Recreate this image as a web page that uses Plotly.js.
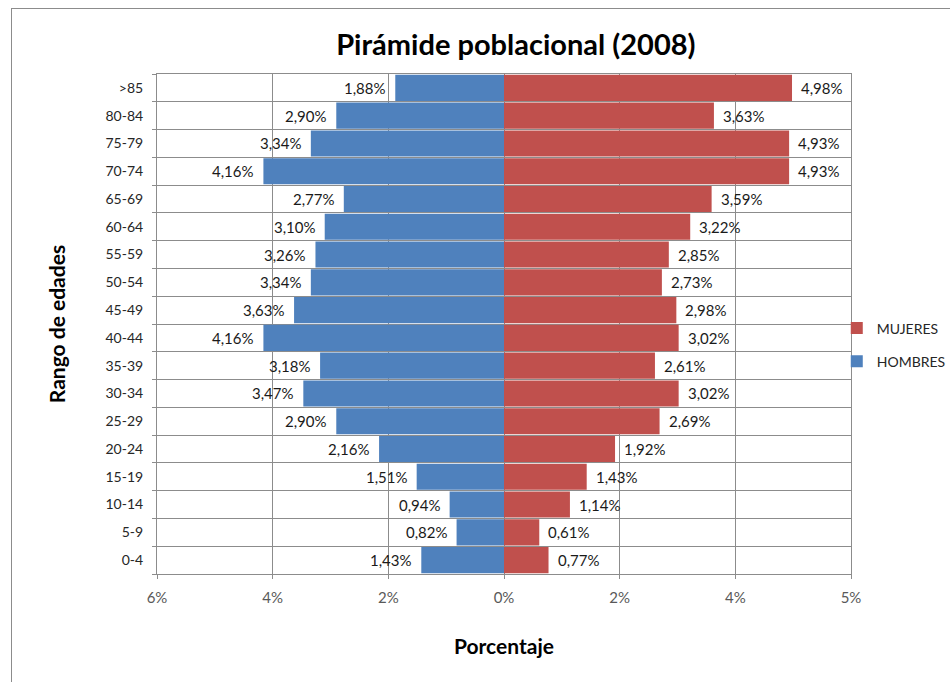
<!DOCTYPE html>
<html>
<head>
<meta charset="utf-8">
<script src="https://cdn.plot.ly/plotly-3.0.1.min.js"></script>
<style>
  html, body { margin: 0; padding: 0; background: #fff; }
  #frame { position: absolute; left: 11px; top: 8px; width: 960px; height: 700px; border: 1px solid #8c8c8c; pointer-events: none; z-index: 5; }
  #chart { position: absolute; left: 0; top: 0; width: 950px; height: 682px; }
</style>
</head>
<body>
<div id="chart"></div>
<div id="frame"></div>
<script>
// Age groups, bottom to top
const categories = ['0-4','5-9','10-14','15-19','20-24','25-29','30-34','35-39','40-44','45-49','50-54','55-59','60-64','65-69','70-74','75-79','80-84','>85'];
// Percentages (%)
const hombres = [1.43, 0.82, 0.94, 1.51, 2.16, 2.90, 3.47, 3.18, 4.16, 3.63, 3.34, 3.26, 3.10, 2.77, 4.16, 3.34, 2.90, 1.88];
const mujeres = [0.77, 0.61, 1.14, 1.43, 1.92, 2.69, 3.02, 2.61, 3.02, 2.98, 2.73, 2.85, 3.22, 3.59, 4.93, 4.93, 3.63, 4.98];
// X-axis ticks
const tickValues = [-6, -4, -2, 0, 2, 4, 6];
const tickLabels = ['6%', '4%', '2%', '0%', '2%', '4%', '5%'];

const fmt = v => v.toFixed(2).replace('.', ',') + '%';
const labelFont = { family: 'Lato, sans-serif', size: 15, color: '#1a1a1a' };

const traces = [
  {
    type: 'bar', orientation: 'h', name: 'MUJERES', legendgroup: 'm',
    y: categories, x: mujeres,
    marker: { color: '#C0504D', line: { width: 0 } },
    hoverinfo: 'none'
  },
  {
    type: 'bar', orientation: 'h', name: 'HOMBRES', legendgroup: 'h',
    y: categories, x: hombres.map(v => -v),
    marker: { color: '#4F81BD', line: { width: 0 } },
    hoverinfo: 'none'
  }
];

const annotations = [];
categories.forEach((c, i) => {
  annotations.push({
    x: -hombres[i], y: c, xref: 'x', yref: 'y',
    text: fmt(hombres[i]), showarrow: false,
    xanchor: 'right', yanchor: 'middle', xshift: -7,
    font: labelFont
  });
  annotations.push({
    x: mujeres[i], y: c, xref: 'x', yref: 'y',
    text: fmt(mujeres[i]), showarrow: false,
    xanchor: 'left', yanchor: 'middle', xshift: 7,
    font: labelFont
  });
});

const layout = {
  width: 950, height: 682,
  margin: { l: 157, r: 99, t: 74, b: 108, autoexpand: false },
  paper_bgcolor: '#fff', plot_bgcolor: '#fff',
  barmode: 'overlay', bargap: 0.06,
  font: { family: 'Lato, sans-serif', color: '#404040' },
  title: {
    text: '<b>Pirámide poblacional (2008)</b>',
    font: { family: 'Lato, sans-serif', size: 29, color: '#000' },
    x: 0.543, xanchor: 'center', y: 0.934, yanchor: 'middle'
  },
  xaxis: {
    range: [-6, 6], tickvals: tickValues, ticktext: tickLabels,
    showgrid: true, gridcolor: '#8c8c8c', gridwidth: 1,
    zeroline: false, showline: true, linecolor: '#8c8c8c', mirror: true,
    ticks: 'outside', ticklen: 4, tickcolor: '#8c8c8c',
    ticklabelstandoff: 6,
    tickfont: { family: 'Lato, sans-serif', size: 15, color: '#595959' },
    title: { text: '<b>Porcentaje</b>', font: { family: 'Lato, sans-serif', size: 21, color: '#000' }, standoff: 34 }
  },
  yaxis: {
    type: 'category', categoryorder: 'array', categoryarray: categories,
    tickson: 'boundaries', showgrid: true, gridcolor: '#8c8c8c', gridwidth: 1,
    showline: true, linecolor: '#8c8c8c', mirror: true,
    ticks: 'outside', ticklen: 4, tickcolor: '#8c8c8c',
    ticklabelstandoff: 10,
    tickfont: { family: 'Lato, sans-serif', size: 14, color: '#262626' },
    title: { text: '<b>Rango de edades</b>', font: { family: 'Lato, sans-serif', size: 21, color: '#000' }, standoff: 34 }
  },
  annotations: annotations,
  legend: {
    x: 0.9795, xanchor: 'left', y: 0.523, yanchor: 'top',
    traceorder: 'grouped',
    bgcolor: 'rgba(0,0,0,0)',
    font: { family: 'Lato, sans-serif', size: 14, color: '#262626' },
    itemwidth: 30, tracegroupgap: 12
  },
  showlegend: true
};

Plotly.newPlot('chart', traces, layout, { staticPlot: true, displayModeBar: false });
</script>
</body>
</html>
